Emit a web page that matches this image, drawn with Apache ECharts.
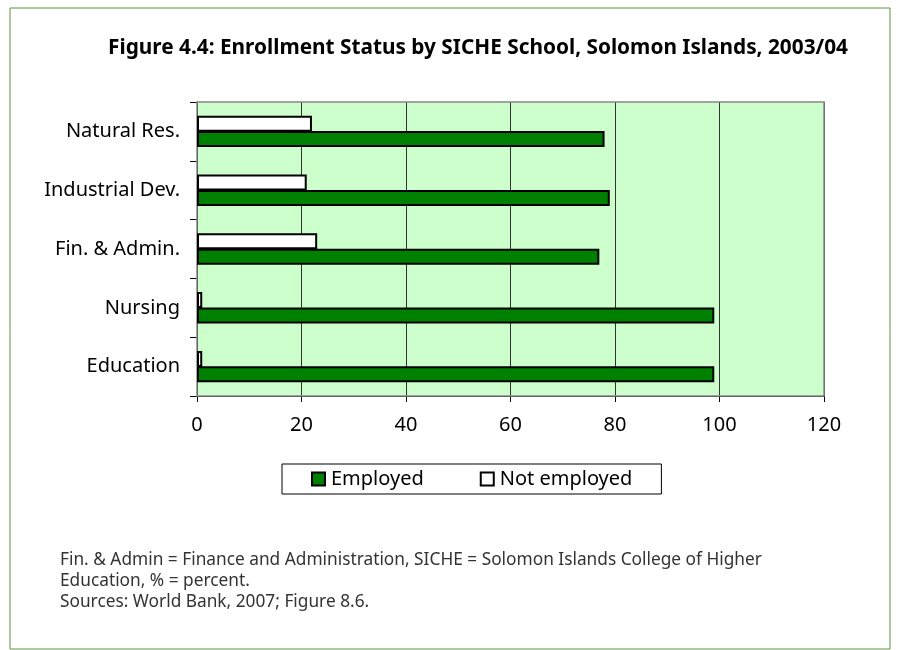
<!DOCTYPE html>
<html>
<head>
<meta charset="utf-8">
<script src="https://cdn.jsdelivr.net/npm/echarts@6/dist/echarts.min.js"></script>
<style>
html,body{margin:0;padding:0;background:#fff;}
#chart{width:897px;height:650px;}
</style>
</head>
<body>
<div id="chart"></div>
<script>
const categories = ['Education', 'Nursing', 'Fin. & Admin.', 'Industrial Dev.', 'Natural Res.'];
const employed = [99, 99, 77, 79, 78];
const notEmployed = [1, 1, 23, 21, 22];
const xTicks = { min: 0, max: 120, interval: 20 };
const titleText = 'Figure 4.4: Enrollment Status by SICHE School, Solomon Islands, 2003/04';
const noteLines = [
  'Fin. & Admin = Finance and Administration, SICHE = Solomon Islands College of Higher',
  'Education, % = percent.',
  'Sources: World Bank, 2007; Figure 8.6.'
];

const FONT = '"Noto Sans", "Open Sans", sans-serif';
const chart = echarts.init(document.getElementById('chart'), null, {renderer: 'canvas'});

const graphics = [
  { type: 'rect', shape: { x: 10, y: 8, width: 880, height: 641 }, style: { fill: 'none', stroke: '#5f9340', lineWidth: 1 }, z: 0 },
  { type: 'rect', shape: { x: 197, y: 102, width: 627, height: 294 }, style: { fill: 'none', stroke: '#888', lineWidth: 1.5 }, z: 1 }
];
noteLines.forEach((t, i) => {
  graphics.push({ type: 'text', x: 60, y: 560 + i * 21,
    style: { text: t, font: '17.3px ' + FONT, fill: '#333', verticalAlign: 'middle' }, z: 10 });
});

chart.setOption({
  backgroundColor: '#fff',
  animation: false,
  textStyle: { fontFamily: FONT },
  title: {
    text: titleText,
    left: 473, textAlign: 'center', top: 33,
    textStyle: { fontSize: 20.8, fontWeight: 'bold', color: '#000', fontFamily: FONT }
  },
  legend: {
    data: ['Employed', 'Not employed'],
    left: 282, top: 464,
    padding: [5, 29, 5, 29],
    itemGap: 56,
    itemWidth: 13, itemHeight: 13,
    icon: 'rect',
    borderColor: '#000', borderWidth: 1,
    textStyle: { fontSize: 20, color: '#000', fontFamily: FONT, padding: [0, 0, 0, 1] }
  },
  grid: { left: 197, top: 102, right: 73, bottom: 254, containLabel: false,
          show: true, backgroundColor: '#ccffcc', borderWidth: 0 },
  xAxis: {
    type: 'value', min: xTicks.min, max: xTicks.max, interval: xTicks.interval,
    axisLine: { show: true, lineStyle: { color: '#000', width: 1 } },
    axisTick: { show: true, length: 6, lineStyle: { color: '#000' } },
    axisLabel: { fontSize: 20, color: '#000', margin: 19, fontFamily: FONT },
    splitLine: { show: true, lineStyle: { color: '#333', width: 1 } }
  },
  yAxis: {
    type: 'category', data: categories,
    axisLine: { show: true, lineStyle: { color: '#000', width: 1 } },
    axisTick: { show: true, length: 7, lineStyle: { color: '#000' } },
    axisLabel: { fontSize: 20, color: '#000', margin: 17, fontFamily: FONT },
    splitLine: { show: false }
  },
  series: [
    {
      name: 'Not employed', type: 'bar', data: notEmployed,
      barWidth: 16, barGap: '-4%',
      itemStyle: { color: '#ffffff', borderColor: '#000', borderWidth: 2 }
    },
    {
      name: 'Employed', type: 'bar', data: employed,
      barWidth: 16, barGap: '-4%',
      itemStyle: { color: '#008000', borderColor: '#000', borderWidth: 2 }
    }
  ],
  graphic: graphics
});
</script>
</body>
</html>
